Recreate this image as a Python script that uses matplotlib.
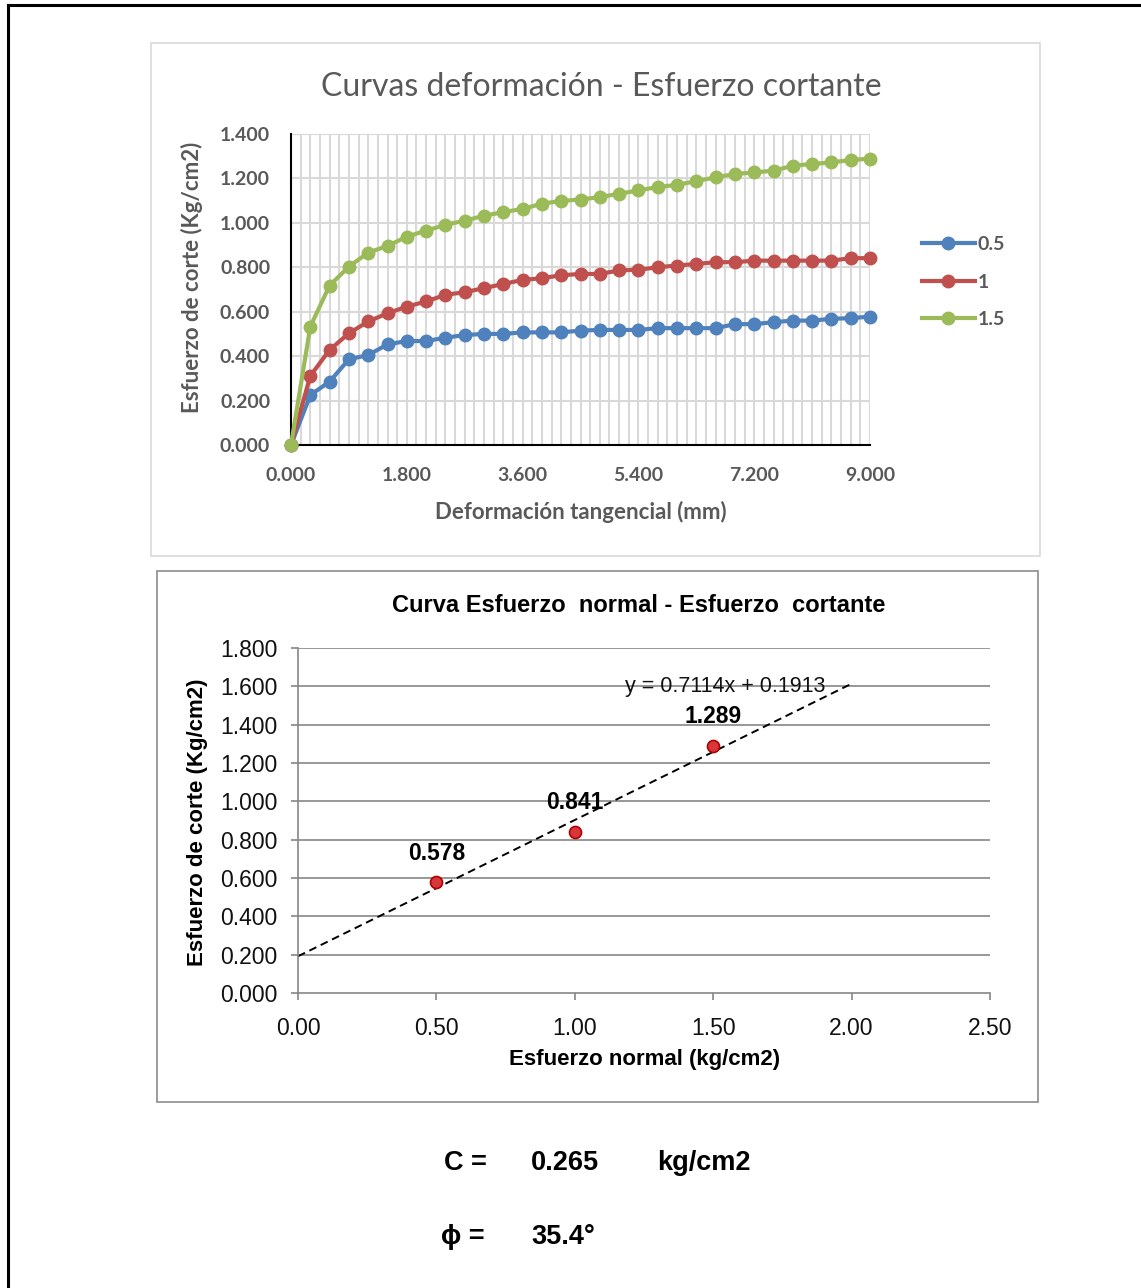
import numpy as np
import matplotlib
matplotlib.use("Agg")
import matplotlib.pyplot as plt
from matplotlib.patches import Rectangle
from matplotlib.lines import Line2D

# ---------------- data ----------------
deformacion = [0.0, 0.3, 0.6, 0.9, 1.2, 1.5, 1.8, 2.1, 2.4, 2.7, 3.0, 3.3, 3.6, 3.9, 4.2, 4.5,
               4.8, 5.1, 5.4, 5.7, 6.0, 6.3, 6.6, 6.9, 7.2, 7.5, 7.8, 8.1, 8.4, 8.7, 9.0]
esf_05 = [0, 0.225, 0.285, 0.386, 0.405, 0.453, 0.468, 0.468, 0.483, 0.495, 0.500, 0.500, 0.507,
          0.507, 0.507, 0.515, 0.518, 0.518, 0.518, 0.526, 0.526, 0.526, 0.526, 0.544, 0.544,
          0.553, 0.560, 0.560, 0.568, 0.571, 0.578]
esf_10 = [0, 0.311, 0.428, 0.503, 0.556, 0.593, 0.623, 0.646, 0.676, 0.688, 0.706, 0.725, 0.743,
          0.751, 0.764, 0.770, 0.770, 0.786, 0.789, 0.800, 0.808, 0.815, 0.823, 0.823, 0.830,
          0.830, 0.830, 0.830, 0.830, 0.841, 0.841]
esf_15 = [0, 0.533, 0.718, 0.803, 0.866, 0.896, 0.938, 0.965, 0.991, 1.010, 1.032, 1.048, 1.063,
          1.086, 1.099, 1.105, 1.116, 1.131, 1.146, 1.161, 1.171, 1.188, 1.205, 1.220, 1.227,
          1.235, 1.257, 1.265, 1.272, 1.283, 1.289]
series_labels = ["0.5", "1", "1.5"]

esf_normal = [0.5, 1.0, 1.5]
esf_corte = [0.578, 0.841, 1.289]
trend_label = "y = 0.7114x + 0.1913"

top_xticks = [0.0, 1.8, 3.6, 5.4, 7.2, 9.0]
top_yticks = [0.0, 0.2, 0.4, 0.6, 0.8, 1.0, 1.2, 1.4]
bot_xticks = [0.0, 0.5, 1.0, 1.5, 2.0, 2.5]
bot_yticks = [0.0, 0.2, 0.4, 0.6, 0.8, 1.0, 1.2, 1.4, 1.6, 1.8]

cohesion = "0.265"
angulo = "35.4°"

# ---------------- figure ----------------
W, H = 1141, 1288
fig = plt.figure(figsize=(W / 100, H / 100), dpi=100)
fig.patch.set_facecolor("white")

def fx(px):
    return px / W

def fy(py):
    return 1 - py / H

def axrect(x0, y0, x1, y1):
    return [fx(x0), fy(y1), fx(x1) - fx(x0), fy(y0) - fy(y1)]

# outer border (top and left visible)
fig.add_artist(Line2D([fx(8), fx(8)], [fy(5), fy(1295)], color="black", lw=2.2))
fig.add_artist(Line2D([fx(8), fx(1145)], [fy(5), fy(5)], color="black", lw=2.2))

# chart boxes
fig.add_artist(Rectangle((fx(151), fy(556)), fx(1040) - fx(151), fy(43) - fy(556),
                         fill=False, edgecolor="#d9d9d9", lw=1.2))
fig.add_artist(Rectangle((fx(157), fy(1102)), fx(1038) - fx(157), fy(571) - fy(1102),
                         fill=False, edgecolor="#8c8c8c", lw=1.2))

# ---------------- top chart ----------------
CAL = ["Lato", "DejaVu Sans"]
gray = "#595959"
ax1 = fig.add_axes(axrect(291, 134, 870, 445))
ax1.set_xlim(0, 9.0)
ax1.set_ylim(0, 1.4)
for xv in np.arange(0.15, 9.0001, 0.15):
    ax1.axvline(xv, color="#d9d9d9", lw=1.5, zorder=0)
for yv in top_yticks[1:]:
    ax1.axhline(yv, color="#d9d9d9", lw=1.5, zorder=0)

colors = ["#4F81BD", "#C0504D", "#9BBB59"]
for ys, c, lab in zip([esf_05, esf_10, esf_15], colors, series_labels):
    ax1.plot(deformacion, ys, color=c, lw=3.0, marker="o", ms=9, label=lab,
             zorder=3, clip_on=False)

ax1.set_xticks(top_xticks)
ax1.set_xticklabels([f"{v:.3f}" for v in top_xticks])
ax1.set_yticks(top_yticks)
ax1.set_yticklabels([f"{v:.3f}" for v in top_yticks])
ax1.tick_params(length=0, labelsize=14, labelcolor=gray)
ax1.tick_params(axis="x", pad=16)
ax1.tick_params(axis="y", pad=15)
for lbl in ax1.get_xticklabels() + ax1.get_yticklabels():
    lbl.set_fontfamily(CAL)
    lbl.set_fontweight("bold")
for s in ["top", "right"]:
    ax1.spines[s].set_visible(False)
for s in ["left", "bottom"]:
    ax1.spines[s].set_color("black")
    ax1.spines[s].set_linewidth(1.5)

fig.text(fx(601), fy(87), "Curvas deformación - Esfuerzo cortante", ha="center", va="center",
         fontsize=23, color=gray, family=CAL)
fig.text(fx(581), fy(512), "Deformación tangencial (mm)", ha="center", va="center",
         fontsize=16, color=gray, family=CAL, fontweight="bold")
fig.text(fx(192), fy(277), "Esfuerzo de corte (Kg/cm2)", ha="center", va="center",
         rotation=90, fontsize=16, color=gray, family=CAL, fontweight="bold")

leg = ax1.legend(loc="center left", bbox_to_anchor=(fx(904), fy(282)),
                 bbox_transform=fig.transFigure, frameon=False, handlelength=2.75,
                 labelspacing=1.05, handletextpad=0.15,
                 prop={"family": CAL, "weight": "bold", "size": 14})
for t in leg.get_texts():
    t.set_color(gray)

# ---------------- bottom chart ----------------
ARI = ["Liberation Sans", "DejaVu Sans"]
ax2 = fig.add_axes(axrect(298, 648, 990, 993))
ax2.set_xlim(0, 2.5)
ax2.set_ylim(0, 1.8)
for yv in bot_yticks[1:]:
    ax2.axhline(yv, color="#868686", lw=1.2, zorder=0)

slope, intercept = np.polyfit(esf_normal, esf_corte, 1)
xt = np.array([0.0, 2.0])
ax2.plot(xt, slope * xt + intercept, color="black", lw=1.4, ls=(0, (4, 2.5)), zorder=2)
ax2.scatter(esf_normal, esf_corte, s=75, color="#D7373A", edgecolor="#B00000", lw=1.2,
            zorder=3)
for xv, yv in zip(esf_normal, esf_corte):
    ax2.annotate(f"{yv:.3f}", (xv, yv), xytext=(0, 21), textcoords="offset points",
                 ha="center", va="center", fontsize=16.5, fontweight="bold",
                 family=ARI, color="black")
ax2.text(1.18, 1.60, trend_label, ha="left", va="center", fontsize=15.5, family=ARI,
         color="#111111")

ax2.set_xticks(bot_xticks)
ax2.set_xticklabels([f"{v:.2f}" for v in bot_xticks])
ax2.set_yticks(bot_yticks)
ax2.set_yticklabels([f"{v:.3f}" for v in bot_yticks])
ax2.tick_params(direction="out", length=5, width=1.2, color="#868686", labelsize=16.5,
                labelcolor="#111111")
ax2.tick_params(axis="x", pad=12)
ax2.tick_params(axis="y", pad=10)
for lbl in ax2.get_xticklabels() + ax2.get_yticklabels():
    lbl.set_fontfamily(ARI)
for s in ["top", "right"]:
    ax2.spines[s].set_visible(False)
for s in ["left", "bottom"]:
    ax2.spines[s].set_color("#868686")
    ax2.spines[s].set_linewidth(1.2)

fig.text(fx(639), fy(605), "Curva Esfuerzo  normal - Esfuerzo  cortante", ha="center",
         va="center", fontsize=17, fontweight="bold", family=ARI, color="black")
fig.text(fx(645), fy(1059), "Esfuerzo normal (kg/cm2)", ha="center", va="center",
         fontsize=16, fontweight="bold", family=ARI, color="black")
fig.text(fx(198), fy(822), "Esfuerzo de corte (Kg/cm2)", ha="center", va="center",
         rotation=90, fontsize=16, fontweight="bold", family=ARI, color="black")

# ---------------- results ----------------
fs = 19.5
fig.text(fx(444), fy(1163), "C =", ha="left", va="center", fontsize=fs, fontweight="bold",
         family=ARI)
fig.text(fx(531), fy(1163), cohesion, ha="left", va="center", fontsize=fs, fontweight="bold",
         family=ARI)
fig.text(fx(657), fy(1163), "kg/cm2", ha="left", va="center", fontsize=fs, fontweight="bold",
         family=ARI)
fig.text(fx(441), fy(1237), "ϕ =", ha="left", va="center", fontsize=fs, fontweight="bold",
         family=ARI)
fig.text(fx(531), fy(1237), angulo, ha="left", va="center", fontsize=fs, fontweight="bold",
         family=ARI)

fig.savefig("out.png", dpi=100)
